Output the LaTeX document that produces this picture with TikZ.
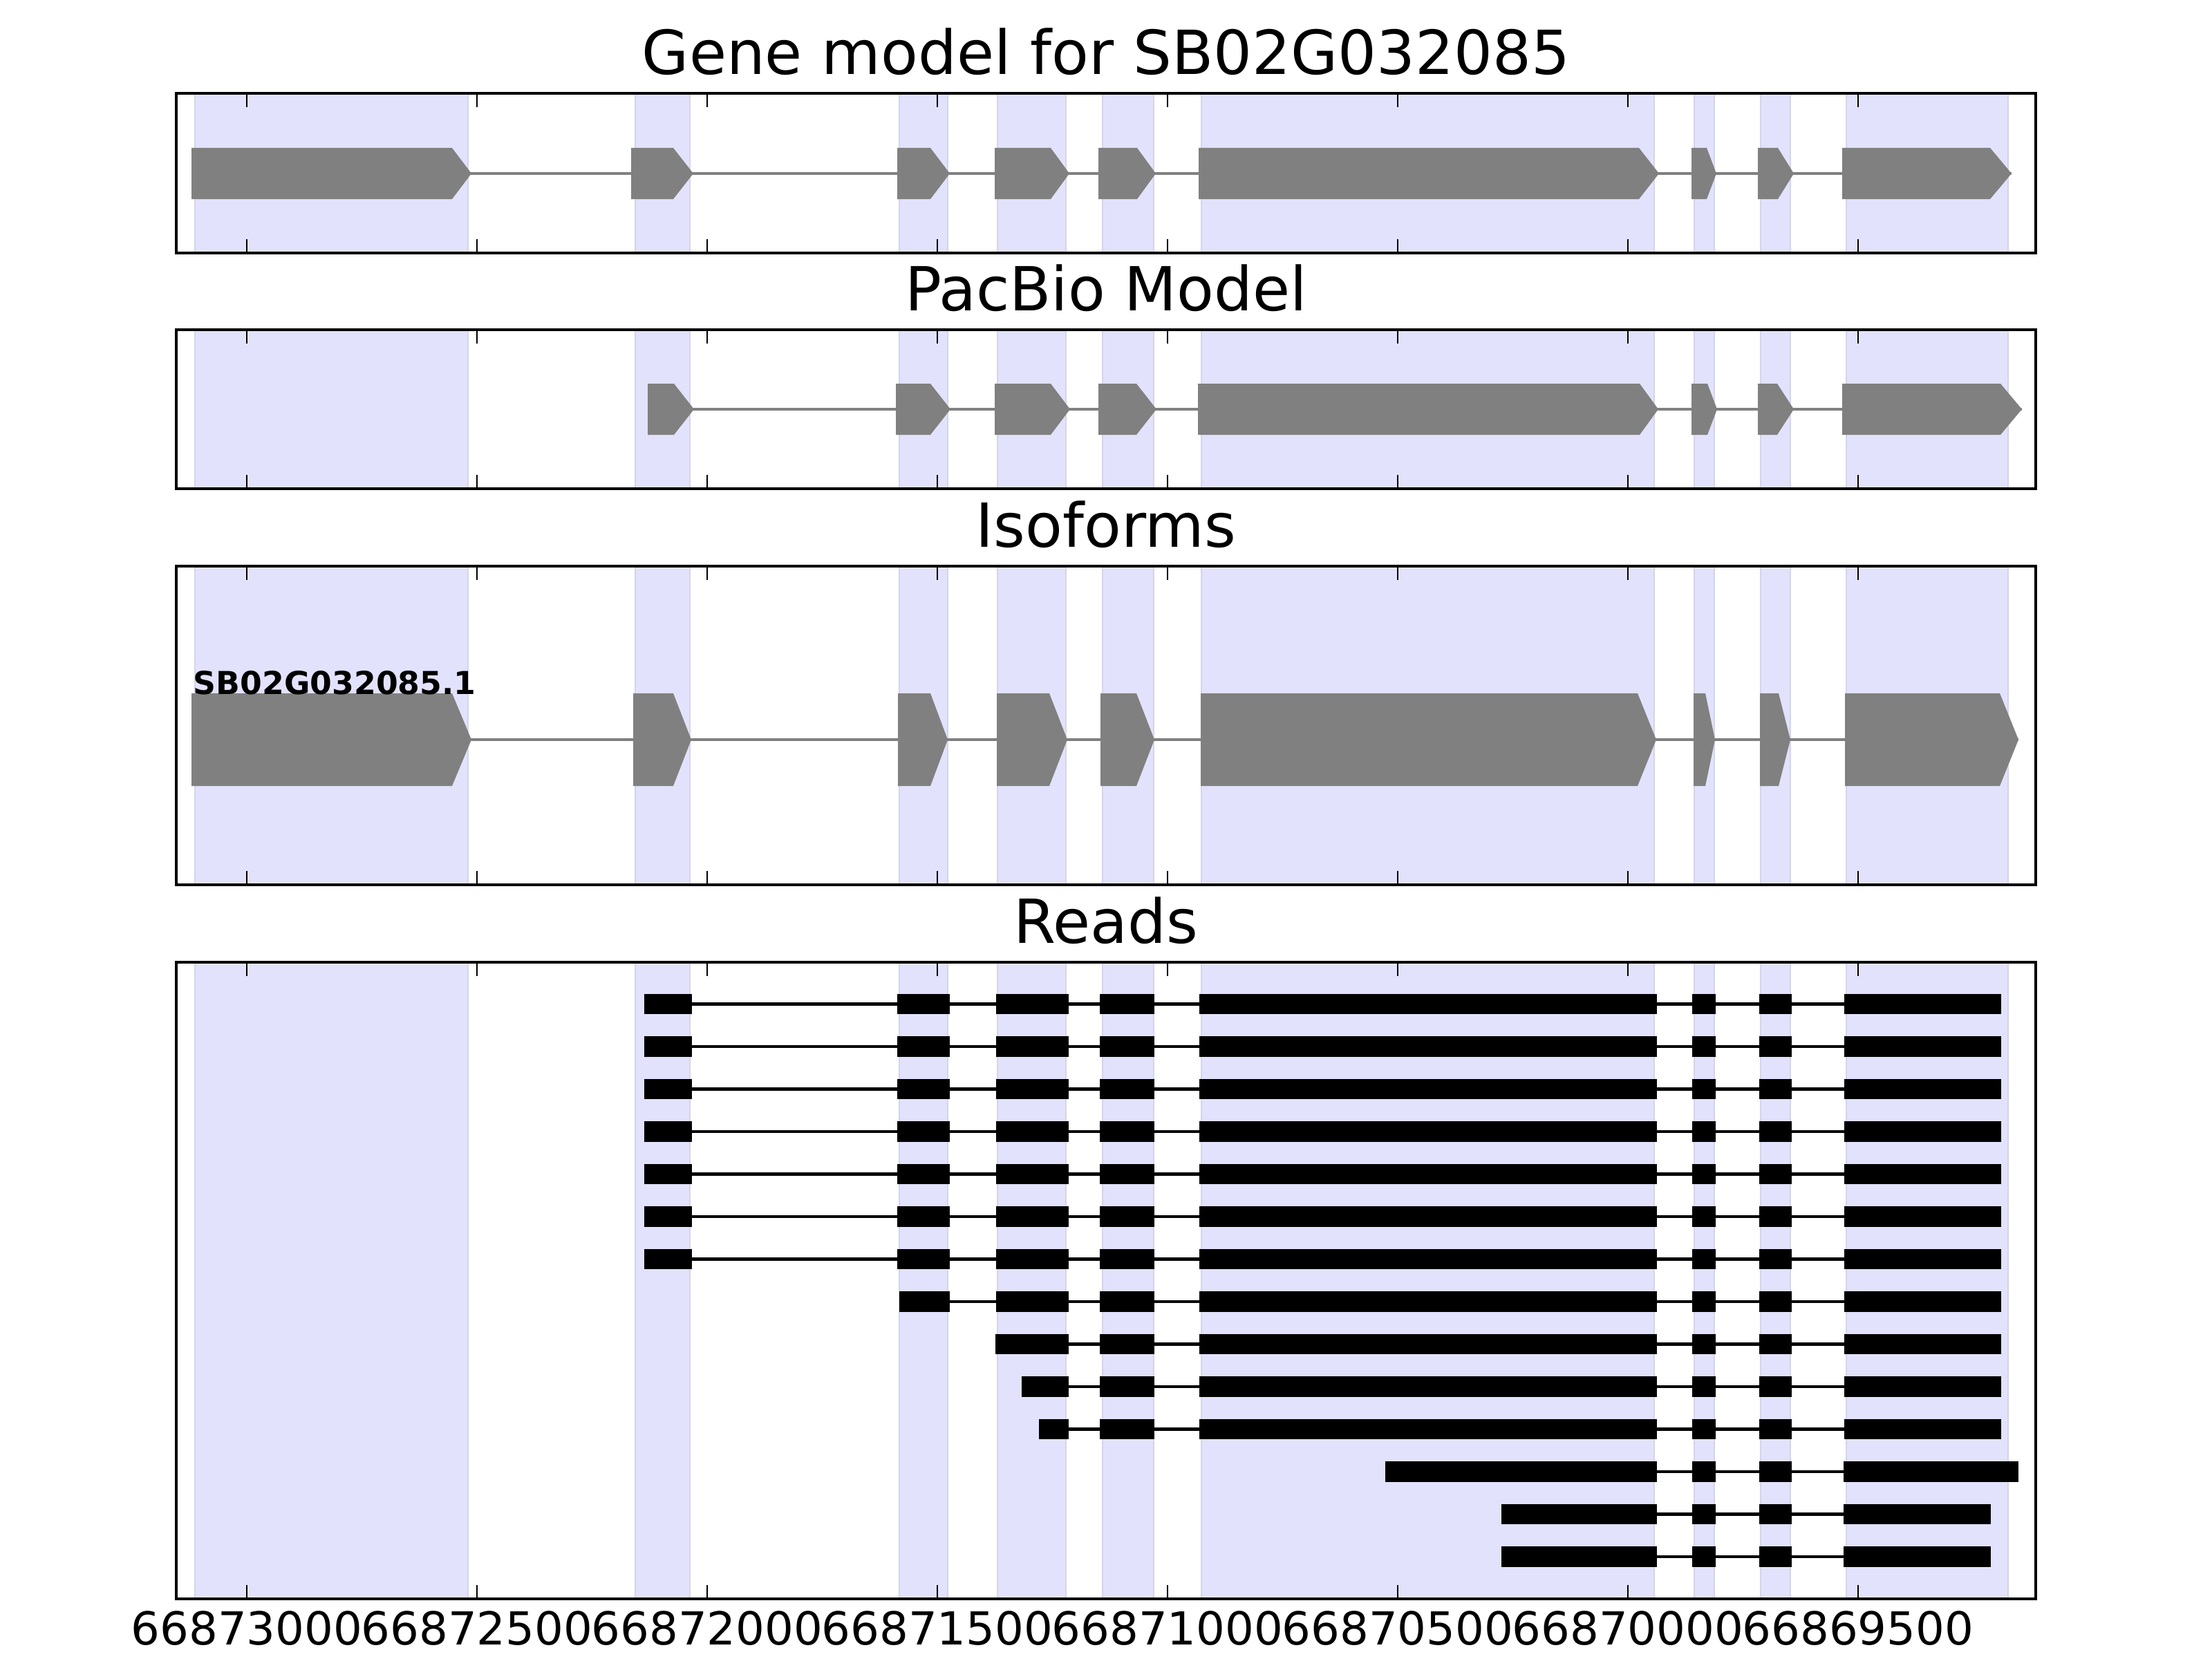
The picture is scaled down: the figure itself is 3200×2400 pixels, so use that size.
\documentclass[tikz,border=0pt]{standalone}
\usepackage{fontspec}
\setmainfont{DejaVu Sans}
\usepackage{tikz}
\definecolor{spanfill}{RGB}{226,226,252}
\definecolor{spanedge}{RGB}{212,212,234}
\definecolor{genegray}{RGB}{128,128,128}

\newcommand{\exonarrow}[5]{\fill[exon] (#1,#4-#5) -- (#2,#4-#5) -- (#3,#4) -- (#2,#4+#5) -- (#1,#4+#5) -- cycle;}
\newcommand{\readrow}[4]{%
  \draw[readline] (#2,{1391+61.5*#1}) -- (#3,{1391+61.5*#1});
  \foreach \s/\e in {#4} {\fill[readbox] (\s,{1391+61.5*#1-14.75}) rectangle (\e,{1391+61.5*#1+14.75});}}

\begin{document}
\begin{tikzpicture}[x=0.01cm, y=-0.01cm,
    span/.style={fill=spanfill, draw=spanedge, line width=0.5pt},
    exon/.style={fill=genegray},
    intron/.style={draw=genegray, line width=1.4pt},
    readbox/.style={fill=black},
    readline/.style={draw=black, line width=1.4pt},
    axframe/.style={draw=black, line width=1.3pt},
    tickmark/.style={draw=black, line width=0.7pt},
    ttl/.style={font=\fontsize{25}{30}\selectfont, inner sep=0pt, anchor=base},
    ticklbl/.style={font=\fontsize{18.7}{22}\selectfont, inner sep=0pt, anchor=base}]

\useasboundingbox (0,0) rectangle (3200,2400);

\foreach \t/\b in {135/366, 477/707, 819/1280, 1392/2313}
  \foreach \s/\e in {282/677, 919/998, 1301/1371, 1443/1542, 1595/1669, 1738/2393, 2451/2480, 2547/2590, 2671/2905}
    \filldraw[span] (\s,\t) rectangle (\e,\b);

% gene model
\draw[intron] (277,251) -- (2910,251);
\foreach \a/\b/\c in {277/654/682, 913/974/1003, 1298/1346/1374, 1439/1520/1547, 1589/1645/1672,
    1734/2371/2400, 2447/2469/2483, 2543/2572/2595, 2665/2879/2910}
  {\exonarrow{\a}{\b}{\c}{251}{37}}

% pacbio model
\draw[intron] (937,592) -- (2925,592);
\foreach \a/\b/\c in {937/975/1004, 1296/1346/1375, 1439/1520/1548, 1589/1644/1673,
    1733/2372/2399, 2447/2470/2484, 2543/2571/2595, 2665/2894/2925}
  {\exonarrow{\a}{\b}{\c}{592}{37}}

% isoforms
\draw[intron] (277,1070) -- (2920,1070);
\foreach \a/\b/\c in {277/654/682, 916/974/1000, 1299/1346/1371, 1442/1518/1544, 1592/1644/1670,
    1737/2369/2396, 2450/2467/2481, 2546/2573/2590, 2669/2893/2920}
  {\exonarrow{\a}{\b}{\c}{1070}{67}}
\node[font=\bfseries\fontsize{13}{16}\selectfont, inner sep=0pt, anchor=base west] (isoname) at (279,1004) {SB02G032085.1};

% reads
\foreach \i in {1,...,7}
  {\readrow{\i}{932}{2895}{932/1001,1298/1374,1441/1546,1591/1670,1735/2397,2448/2482,2545/2592,2668/2895}}
\readrow{8}{1301}{2895}{1301/1374,1441/1546,1591/1670,1735/2397,2448/2482,2545/2592,2668/2895}
\readrow{9}{1440}{2895}{1440/1546,1591/1670,1735/2397,2448/2482,2545/2592,2668/2895}
\readrow{10}{1478}{2895}{1478/1546,1591/1670,1735/2397,2448/2482,2545/2592,2668/2895}
\readrow{11}{1503}{2895}{1503/1546,1591/1670,1735/2397,2448/2482,2545/2592,2668/2895}
\readrow{12}{2004}{2920}{2004/2397,2448/2482,2545/2592,2667/2920}
\readrow{13}{2172}{2880}{2172/2397,2448/2482,2545/2592,2667/2880}
\readrow{14}{2172}{2880}{2172/2397,2448/2482,2545/2592,2667/2880}

\foreach \t/\b in {135/366, 477/707, 819/1280, 1392/2313} {
  \foreach \x in {357,690,1023,1356,1689,2022,2355,2688} {
    \draw[tickmark] (\x,\t) -- ++(0,20);
    \draw[tickmark] (\x,\b) -- ++(0,-20);
  }
  \draw[axframe] (255,\t) rectangle (2945,\b);
}

\node[ttl] (ttlgene) at (1600,108) {Gene model for SB02G032085};
\node[ttl] (ttlpacbio) at (1600,449) {PacBio Model};
\node[ttl] (ttliso) at (1600,791) {Isoforms};
\node[ttl] (ttlreads) at (1600,1364) {Reads};

\foreach \x/\t [count=\k] in {357/66873000, 690/66872500, 1023/66872000, 1356/66871500,
    1689/66871000, 2022/66870500, 2355/66870000, 2688/66869500}
  \node[ticklbl] (lbl\k) at (\x,2379) {\t};

\end{tikzpicture}
\end{document}
